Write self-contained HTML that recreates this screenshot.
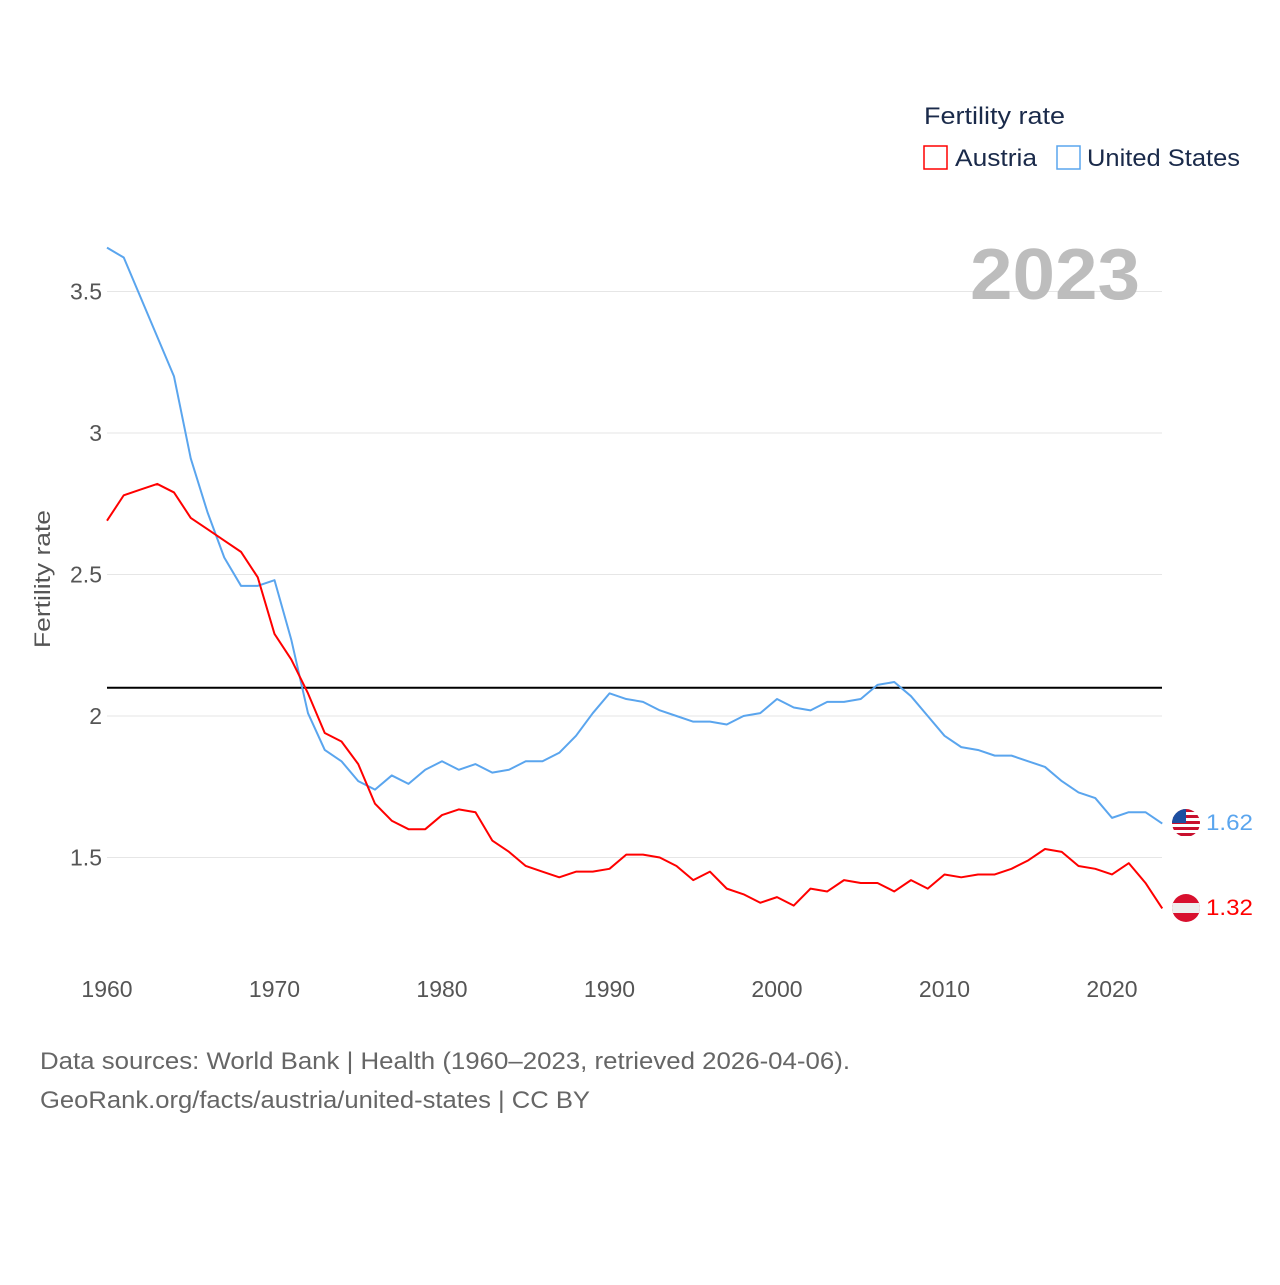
<!DOCTYPE html>
<html><head><meta charset="utf-8"><style>
body{margin:0;background:#fff;font-family:"Liberation Sans",sans-serif}
</style></head><body>
<svg id="chart" width="1280" height="1280" xmlns="http://www.w3.org/2000/svg" font-family="Liberation Sans, sans-serif">
<defs>
<clipPath id="cu"><circle cx="1186" cy="823" r="14"/></clipPath>
<clipPath id="ca"><circle cx="1186" cy="908" r="14"/></clipPath>
</defs>
<g id="grid"></g>
<g id="axes"></g>
<text transform="translate(50,579) rotate(-90)" text-anchor="middle" font-size="22" fill="#555" textLength="138" lengthAdjust="spacingAndGlyphs">Fertility rate</text>
<text x="970" y="299" font-size="72" font-weight="bold" fill="#bdbdbd" textLength="170" lengthAdjust="spacingAndGlyphs">2023</text>
<g>
<text x="924" y="124" font-size="24" fill="#1a2a4a" textLength="141" lengthAdjust="spacingAndGlyphs">Fertility rate</text>
<rect x="924" y="146" width="23" height="23" fill="none" stroke="#ff0000" stroke-width="1.5"/>
<text x="955" y="166" font-size="24" fill="#1a2a4a" textLength="82" lengthAdjust="spacingAndGlyphs">Austria</text>
<rect x="1057" y="146" width="23" height="23" fill="none" stroke="#5aa5ee" stroke-width="1.5"/>
<text x="1087" y="166" font-size="24" fill="#1a2a4a" textLength="153" lengthAdjust="spacingAndGlyphs">United States</text>
</g>
<g id="series"></g>
<g clip-path="url(#cu)">
<rect x="1172" y="809" width="28" height="28" fill="#fff"/>
<rect x="1172" y="809" width="28" height="3" fill="#c8102e"/><rect x="1172" y="815" width="28" height="3" fill="#c8102e"/><rect x="1172" y="821" width="28" height="3" fill="#c8102e"/><rect x="1172" y="827" width="28" height="3" fill="#c8102e"/><rect x="1172" y="833" width="28" height="3" fill="#c8102e"/>
<rect x="1172" y="809" width="14" height="14" fill="#1d4fa0"/>
</g>
<text x="1206" y="830" font-size="22" fill="#5aa5ee" textLength="47" lengthAdjust="spacingAndGlyphs">1.62</text>
<g clip-path="url(#ca)">
<rect x="1172" y="894" width="28" height="28" fill="#d8102e"/>
<rect x="1172" y="903" width="28" height="10" fill="#eee"/>
</g>
<text x="1206" y="915" font-size="22" fill="#ff0000" textLength="47" lengthAdjust="spacingAndGlyphs">1.32</text>
<text x="40" y="1069" font-size="24" fill="#666" textLength="810" lengthAdjust="spacingAndGlyphs">Data sources: World Bank | Health (1960–2023, retrieved 2026-04-06).</text>
<text x="40" y="1108" font-size="24" fill="#666" textLength="550" lengthAdjust="spacingAndGlyphs">GeoRank.org/facts/austria/united-states | CC BY</text>
</svg>
<script>
const years=[];for(let y=1960;y<=2023;y++)years.push(y);
const usValues=[3.655,3.62,3.48,3.34,3.20,2.91,2.72,2.56,2.46,2.46,2.48,2.27,2.01,1.88,1.84,1.77,1.74,1.79,1.76,1.81,1.84,1.81,1.83,1.80,1.81,1.84,1.84,1.87,1.93,2.01,2.08,2.06,2.05,2.02,2.00,1.98,1.98,1.97,2.00,2.01,2.06,2.03,2.02,2.05,2.05,2.06,2.11,2.12,2.07,2.00,1.93,1.89,1.88,1.86,1.86,1.84,1.82,1.77,1.73,1.71,1.64,1.66,1.66,1.62];
const atValues=[2.69,2.78,2.80,2.82,2.79,2.70,2.66,2.62,2.58,2.49,2.29,2.20,2.08,1.94,1.91,1.83,1.69,1.63,1.60,1.60,1.65,1.67,1.66,1.56,1.52,1.47,1.45,1.43,1.45,1.45,1.46,1.51,1.51,1.50,1.47,1.42,1.45,1.39,1.37,1.34,1.36,1.33,1.39,1.38,1.42,1.41,1.41,1.38,1.42,1.39,1.44,1.43,1.44,1.44,1.46,1.49,1.53,1.52,1.47,1.46,1.44,1.48,1.41,1.32];
const yTicks=[1.5,2,2.5,3,3.5];
const yTickLabels=["1.5","2","2.5","3","3.5"];
const xTicks=[1960,1970,1980,1990,2000,2010,2020];
const replacement=[2.1];
const NS="http://www.w3.org/2000/svg";
const X=y=>107+(y-1960)*16.75;
const Y=v=>716-(v-2)*283;
function mk(tag,attrs,parent,txt){const e=document.createElementNS(NS,tag);for(const k in attrs)e.setAttribute(k,attrs[k]);if(txt!==undefined)e.textContent=txt;parent.appendChild(e);return e;}
const grid=document.getElementById('grid'),axes=document.getElementById('axes'),series=document.getElementById('series');
yTicks.forEach((t,i)=>{
 const l=mk('line',{x1:107,x2:1162,y1:Y(t),y2:Y(t),stroke:'#e6e6e6','stroke-width':1},grid);
 
 
 const tx=mk('text',{x:102,y:Y(t)+8,'text-anchor':'end','font-size':23,fill:'#555'},axes,yTickLabels[i]);
 
 
});
xTicks.forEach(t=>{
 const tx=mk('text',{x:X(t),y:997,'text-anchor':'middle','font-size':23,fill:'#555'},axes,String(t));
 
 
});
const rl=mk('line',{x1:107,x2:1162,y1:Y(replacement[0]),y2:Y(replacement[0]),stroke:'#000','stroke-width':2},series);


function line(vals,color,name){
 const d=vals.map((v,i)=>(i?'L':'M')+X(years[i]).toFixed(2)+','+Y(v).toFixed(2)).join('');
 const p=mk('path',{d:d,fill:'none',stroke:color,'stroke-width':2,'stroke-linejoin':'round'},series);
 
 
}
line(usValues,'#5aa5ee','us-line');
line(atValues,'#ff0000','austria-line');
</script>
</body></html>
